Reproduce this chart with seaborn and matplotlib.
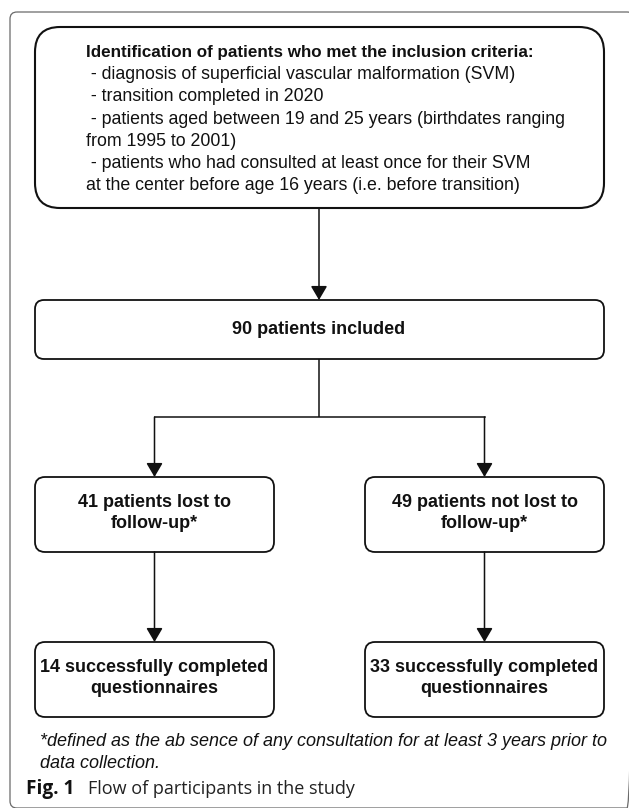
import numpy as np
import matplotlib.pyplot as plt
import seaborn as sns
from matplotlib.patches import FancyBboxPatch

# ==============================
# Data
# ==============================

criteria_title = "Identification of patients who met the inclusion criteria:"
criteria_lines = [
    " - diagnosis of superficial vascular malformation (SVM)",
    " - transition completed in 2020",
    " - patients aged between 19 and 25 years (birthdates ranging",
    "from 1995 to 2001)",
    " - patients who had consulted at least once for their SVM",
    "at the center before age 16 years (i.e. before transition)",
]
n_included = 90
included_label = "patients included"
group_counts = [41, 49]
group_labels = ["patients lost to\nfollow-up*", "patients not lost to\nfollow-up*"]
completed_counts = [14, 33]
completed_label = "successfully completed\nquestionnaires"
footnote_lines = [
    "*defined as the ab sence of any consultation for at least 3 years prior to",
    "data collection.",
]
fig_label = "Fig. 1"
fig_caption = "Flow of participants in the study"

# ==============================
# Figure setup
# ==============================

sns.set_theme(style="white")
plt.rcParams['font.family'] = ['Liberation Sans', 'DejaVu Sans']

W, H = 629, 808
fig = plt.figure(figsize=(W / 100, H / 100), dpi=100)
ax = fig.add_axes([0, 0, 1, 1])
ax.set_xlim(0, W)
ax.set_ylim(H, 0)
ax.axis('off')

px = 72 / 100  # pixels -> points
ink = '#111111'


def rbox(x0, y0, x1, y1, r, lw=1.3, color=ink):
    p = FancyBboxPatch((x0, y0), x1 - x0, y1 - y0,
                       boxstyle=f"round,pad=0,rounding_size={r}",
                       fc='white', ec=color, lw=lw)
    ax.add_patch(p)


def arrow(x, y0, y1):
    ax.annotate("", xy=(x, y1), xytext=(x, y0),
                arrowprops=dict(arrowstyle="-|>,head_length=0.85,head_width=0.5",
                                mutation_scale=10, color=ink, lw=1.1,
                                shrinkA=0, shrinkB=0))


# outer frame (cut at right/bottom)
ax.add_patch(FancyBboxPatch((10, 12), 624, 796,
                            boxstyle="round,pad=0,rounding_size=7",
                            fc='none', ec='#6a6a6a', lw=0.9, clip_on=True))

# top box with criteria
rbox(35, 27, 604, 208, 25, lw=1.5)
ax.text(86, 52, criteria_title, fontsize=17 * px, fontweight='bold',
        ha='left', va='center', color=ink)
for i, line in enumerate(criteria_lines):
    ax.text(86, 74.5 + i * 22.3, line, fontsize=17.8 * px,
            ha='left', va='center', color=ink)

arrow(319, 208, 300)

# included box
rbox(35, 300, 604, 359, 9)
ax.text(319, 330, f"{n_included} {included_label}", fontsize=18 * px,
        fontweight='bold', ha='center', va='center', color=ink)

# split
ax.plot([319, 319], [359, 417], color=ink, lw=1.1, solid_capstyle='butt')
ax.plot([154.5, 484.5], [417, 417], color=ink, lw=1.1, solid_capstyle='projecting')

centers = [154.5, 484.5]
lefts = [35, 365]
rights = [274, 604]
for cx, x0, x1, n, lab, m in zip(centers, lefts, rights, group_counts,
                                 group_labels, completed_counts):
    arrow(cx, 417, 477)
    rbox(x0, 477, x1, 552, 10)
    ax.text(cx, 513, f"{n} {lab}", fontsize=18 * px, fontweight='bold',
            ha='center', va='center', color=ink, linespacing=1.32)
    arrow(cx, 552, 642)
    rbox(x0, 642, x1, 717, 10)
    ax.text(cx, 678, f"{m} {completed_label}", fontsize=18 * px,
            fontweight='bold', ha='center', va='center', color=ink,
            linespacing=1.32)

# footnote
for i, line in enumerate(footnote_lines):
    ax.text(40, 742 + i * 22, line, fontsize=18 * px, style='italic',
            ha='left', va='center', color=ink)

# caption
ax.text(26, 789, fig_label, fontsize=19 * px, fontweight='bold',
        family=['Open Sans', 'DejaVu Sans'], ha='left', va='center',
        color='#111111')
ax.text(88, 789, fig_caption, fontsize=18 * px,
        family=['Open Sans', 'DejaVu Sans'], ha='left', va='center',
        color='#222222')

fig.savefig("out.png", dpi=100)
